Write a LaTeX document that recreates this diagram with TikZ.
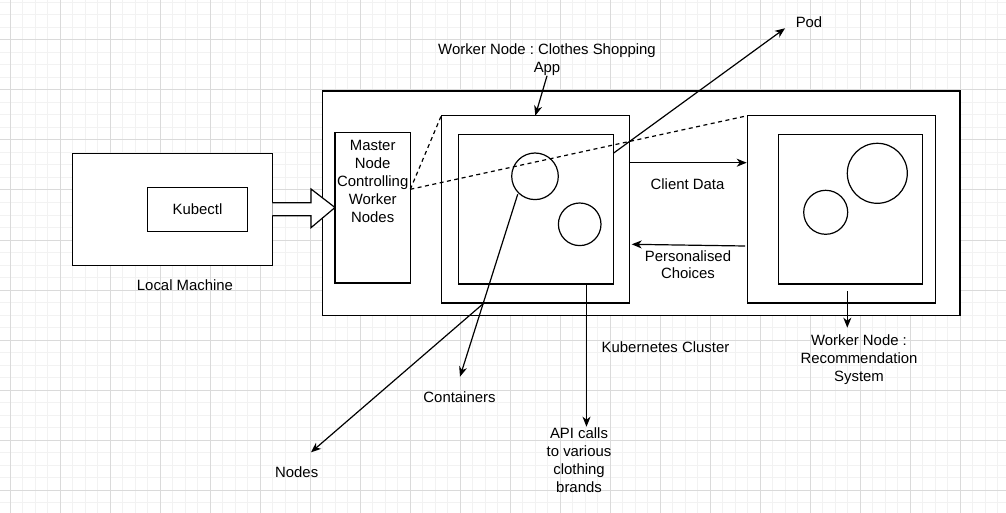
\documentclass[tikz,border=0pt]{standalone}
\usepackage{fontspec}
\setmainfont{Liberation Sans}
\usetikzlibrary{arrows.meta}
\frenchspacing
\begin{document}
\begin{tikzpicture}[x=1pt,y=-1pt,
  every node/.style={font=\fontsize{14.9}{17.8}\selectfont, inner sep=0pt, outer sep=0pt},
  box/.style={draw=black, line width=1.3pt, fill=white},
  circ/.style={draw=black, line width=1.2pt, circle, fill=white},
  lbl/.style={align=center},
  conn/.style={draw=black, line width=1.2pt, -{Stealth[length=10pt,width=8pt,inset=3pt]}},
  dashline/.style={draw=black, line width=1.2pt, dash pattern=on 4pt off 3.5pt},
  minorg/.style={draw={rgb,255:red,242;green,242;blue,242}, line width=1pt},
  majorg/.style={draw={rgb,255:red,218;green,218;blue,218}, line width=1pt}
]
\useasboundingbox (0,0) rectangle (1006,513);
\fill[white] (0,0) rectangle (1006,513);
% grid
\foreach \x in {-2.5,10,...,1010} {\draw[minorg] (\x,0) -- (\x,513);}
\foreach \y in {2.5,15,...,515} {\draw[minorg] (0,\y) -- (1006,\y);}
\foreach \x in {10,60,...,1010} {\draw[majorg] (\x,0) -- (\x,513);}
\foreach \y in {40,90,...,540} {\draw[majorg] (0,\y) -- (1006,\y);}

% local machine
\node[box, minimum width=200pt, minimum height=112.4pt] (lm) at (172.3,209.5) {};
\node[box, minimum width=100.4pt, minimum height=43.6pt] (kub) at (197.5,209.5) {Kubectl};
\node[lbl] (lmtxt) at (185,285) {Local Machine};

% cluster
\node[box, minimum width=637.7pt, minimum height=224.7pt] (cluster) at (641.2,203.3) {};
\node[box, minimum width=75.3pt, minimum height=150.3pt] (master) at (372.7,207.8) {};
\node[lbl] (mastertxt) at (372.7,181.5) {Master\\Node\\Controlling\\Worker\\Nodes};

% block arrow
\draw[line width=1.2pt, fill=white] (272.3,202.7) -- (311,202.7) -- (311,189) -- (335,207.5) -- (311,227.7) -- (311,215.7) -- (272.3,215.7);

% worker 1
\node[box, minimum width=188pt, minimum height=187.3pt] (w1o) at (535.3,209.3) {};
\node[box, minimum width=154.6pt, minimum height=149.7pt] (w1i) at (536,209.2) {};
\node[circ, minimum size=46.6pt] (c1) at (535,176.3) {};
\node[circ, minimum size=42.6pt] (c2) at (579.7,224.3) {};

% worker 2
\node[box, minimum width=187.6pt, minimum height=187.3pt] (w2o) at (841.5,209.3) {};
\node[box, minimum width=144pt, minimum height=149.7pt] (w2i) at (850.7,209.2) {};
\node[circ, minimum size=60pt] (c3) at (877.3,173.3) {};
\node[circ, minimum size=44pt] (c4) at (825.7,212.3) {};

% labels
\node[lbl] (clothes) at (547,60) {Worker Node : Clothes Shopping\\App};
\node[lbl] (pod) at (809,21.7) {Pod};
\node[lbl] (client) at (687.5,184.3) {Client Data};
\node[lbl] (pers) at (688,264.7) {Personalised\\Choices};
\node[lbl] (k8s) at (665.5,346.7) {Kubernetes Cluster};
\node[lbl] (rec) at (859,359.5) {Worker Node :\\Recommendation\\System};
\node[lbl] (cont) at (459.5,396.7) {Containers};
\node[lbl] (nodes) at (296.7,471.7) {Nodes};
\node[lbl] (api) at (579,460) {API calls\\to various\\clothing\\brands};

% coordinates
\coordinate (md) at (410.3,189.3);
\coordinate (podsrc) at (613.3,153.3);
\coordinate (podtip) at (785,28.3);
\coordinate (cdsrc) at (629.3,162.7);
\coordinate (cdtip) at (746.7,162.7);
\coordinate (pcsrc) at (745,246);
\coordinate (pctip) at (631.7,244.3);
\coordinate (recsrc) at (847.3,291);
\coordinate (rectip) at (847.3,327.7);
\coordinate (contsrc) at (517.7,194.3);
\coordinate (conttip) at (460,376.7);
\coordinate (nodsrc) at (484,303);
\coordinate (nodtip) at (311,452.3);
\coordinate (apisrc) at (586.5,284);
\coordinate (apitip) at (586.5,426.7);

% connectors
\draw[dashline] (md) -- (w1o.north west);
\draw[dashline] (md) -- (w2o.north west);
\draw[conn] (podsrc) -- (podtip);
\draw[conn] (clothes.south) -- (w1o.north);
\draw[conn] (cdsrc) -- (cdtip);
\draw[conn] (pcsrc) -- (pctip);
\draw[conn] (recsrc) -- (rectip);
\draw[conn] (contsrc) -- (conttip);
\draw[conn] (nodsrc) -- (nodtip);
\draw[conn] (apisrc) -- (apitip);
\end{tikzpicture}
\end{document}
